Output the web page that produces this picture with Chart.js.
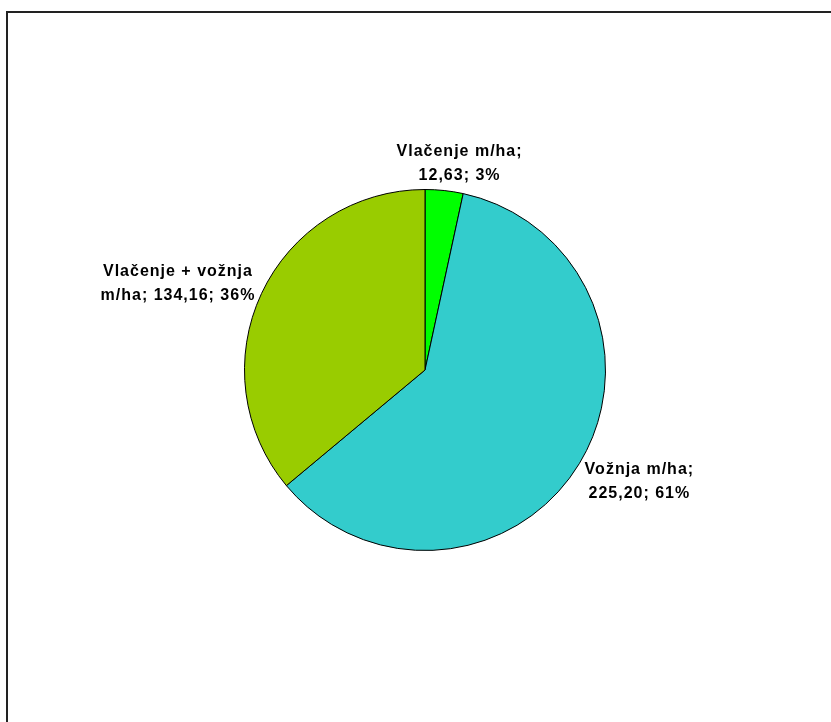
<!DOCTYPE html>
<html>
<head>
<meta charset="utf-8">
<script src="https://cdn.jsdelivr.net/npm/chart.js@4.4.1/dist/chart.umd.min.js"></script>
<style>
  html, body { margin: 0; padding: 0; background: #fff; overflow: hidden; }
  #wrap { position: relative; width: 831px; height: 722px; }
  #frame { position: absolute; left: 6px; top: 11px; width: 900px; height: 800px; border: 2px solid #222; }
  canvas { position: absolute; left: 0; top: 0; }
</style>
</head>
<body>
<div id="wrap">
  <div id="frame"></div>
  <canvas id="myChart" width="831" height="722"></canvas>
</div>
<script>
const labels = ['Vlačenje m/ha', 'Vožnja m/ha', 'Vlačenje + vožnja m/ha'];
const values = [12.63, 225.20, 134.16];
const percents = [3, 61, 36];
const labelLines = [
  ['Vlačenje m/ha;', '12,63; 3%'],
  ['Vožnja m/ha;', '225,20; 61%'],
  ['Vlačenje + vožnja', 'm/ha; 134,16; 36%']
];
const colors = ['#00FF00', '#33CCCC', '#99CC00'];

// labels outside each slice, pushed away from the pie along the mid angle
const outsideLabels = {
  id: 'outsideLabels',
  afterDraw(chart) {
    const ctx = chart.ctx;
    const meta = chart.getDatasetMeta(0);
    ctx.save();
    ctx.font = 'bold 16px "Liberation Sans", Arial, sans-serif';
    ctx.letterSpacing = '1px';
    ctx.fillStyle = '#000';
    ctx.textAlign = 'center';
    ctx.textBaseline = 'middle';
    const lh = 24;
    meta.data.forEach((arc, i) => {
      const mid = (arc.startAngle + arc.endAngle) / 2;
      const dx = Math.cos(mid), dy = Math.sin(mid);
      const r = arc.outerRadius + 6;
      const ax = arc.x + dx * r, ay = arc.y + dy * r;
      const lines = labelLines[i];
      const w = Math.max(...lines.map(l => ctx.measureText(l).width));
      const h = lines.length * lh;
      const cx = ax + dx * w / 2 + Math.sign(dx) * 8;
      const cy = ay + dy * h / 2 + 3;
      lines.forEach((l, k) => {
        ctx.fillText(l, cx, cy - h / 2 + lh / 2 + k * lh);
      });
    });
    ctx.restore();
  }
};

new Chart(document.getElementById('myChart'), {
  type: 'pie',
  data: {
    labels: labels,
    datasets: [{
      data: values,
      backgroundColor: colors,
      borderColor: '#000',
      borderWidth: 1
    }]
  },
  options: {
    responsive: false,
    animation: false,
    layout: { padding: { left: 244, right: 225, top: 189, bottom: 171 } },
    plugins: {
      legend: { display: false },
      tooltip: { enabled: false }
    }
  },
  plugins: [outsideLabels]
});
</script>
</body>
</html>
